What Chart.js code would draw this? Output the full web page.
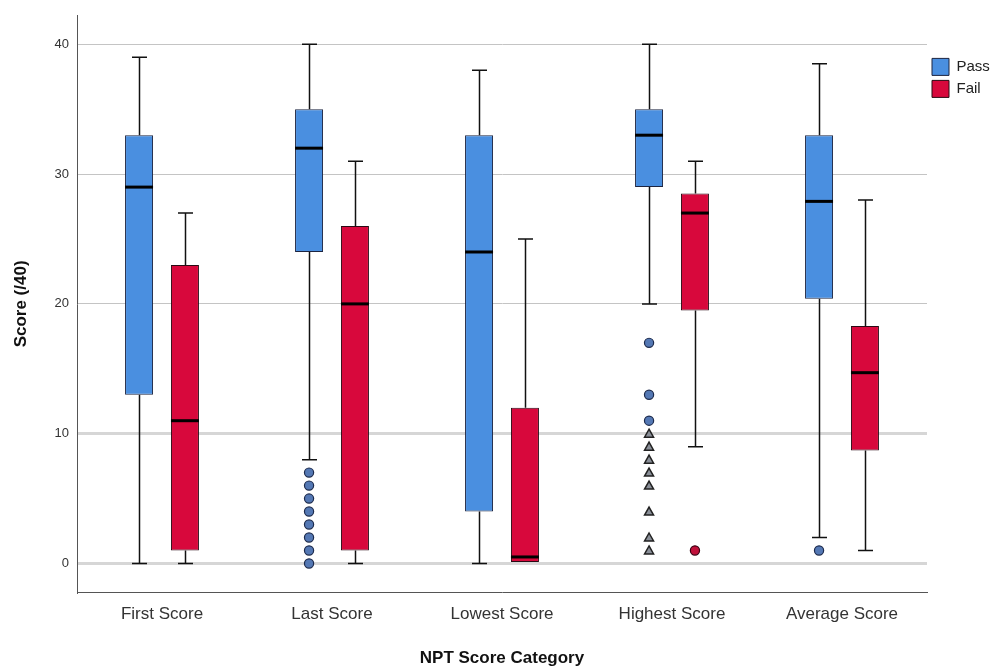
<!DOCTYPE html>
<html>
<head>
<meta charset="utf-8">
<script src="https://cdn.jsdelivr.net/npm/chart.js@4.4.0/dist/chart.umd.min.js"></script>
<style>
  html, body { margin: 0; padding: 0; background: #fff; }
  #wrap { width: 993px; height: 666px; position: relative; }
</style>
</head>
<body>
<div id="wrap"><canvas id="chart"></canvas></div>
<script>
// categories and box stats
const categories = ["First Score", "Last Score", "Lowest Score", "Highest Score", "Average Score"];

const passMin    = [0, 8, 0, 20, 2];
const passQ1     = [13, 24, 4, 29, 20.4];
const passMedian = [29, 32, 24, 33, 27.9];
const passQ3     = [33, 35, 33, 35, 33];
const passMax    = [39, 40, 38, 40, 38.5];

const failMin    = [0, 0, 0, 9, 1];
const failQ1     = [1, 1, 0, 19.5, 8.7];
const failMedian = [11, 20, 0.5, 27, 14.7];
const failQ3     = [23, 26, 12, 28.5, 18.3];
const failMax    = [27, 31, 25, 31, 28];

// outliers (circles) and extremes (triangles)
const passOutliers = [[], [0, 1, 2, 3, 4, 5, 6, 7], [], [17, 13, 11], [1]];
const passExtremes = [[], [], [], [10, 9, 8, 7, 6, 4, 2, 1], []];
const failOutliers = [[], [], [], [1], []];
const failExtremes = [[], [], [], [], []];

const yTicks = [0, 10, 20, 30, 40];

const PASS = "#4a8fe0";
const FAIL = "#d8083c";

const stats = [
  { min: passMin, med: passMedian, max: passMax, out: passOutliers, ext: passExtremes, dot: "#5478b4", dotLine: "#1d2b4d" },
  { min: failMin, med: failMedian, max: failMax, out: failOutliers, ext: failExtremes, dot: "#c0103a", dotLine: "#3a0012" }
];

const FONT = "'Liberation Sans', Arial, sans-serif";

// whiskers behind the boxes, medians + outliers on top
const boxExtras = {
  id: "boxExtras",
  beforeDatasetsDraw(chart) {
    const ctx = chart.ctx, y = chart.scales.y;
    ctx.save();
    ctx.strokeStyle = "#111";
    ctx.lineWidth = 1.5;
    stats.forEach((s, di) => {
      const meta = chart.getDatasetMeta(di);
      const q = chart.data.datasets[di].data;
      meta.data.forEach((el, i) => {
        const x = Math.round(el.x) + 0.5, cap = 7.5;
        const yMax = y.getPixelForValue(s.max[i]), yMin = y.getPixelForValue(s.min[i]);
        const yTop = y.getPixelForValue(q[i][1]), yBot = y.getPixelForValue(q[i][0]);
        ctx.beginPath();
        if (s.max[i] > q[i][1]) {
          ctx.moveTo(x, yTop); ctx.lineTo(x, yMax);
          ctx.moveTo(x - cap, yMax); ctx.lineTo(x + cap, yMax);
        }
        if (s.min[i] < q[i][0]) {
          ctx.moveTo(x, yBot); ctx.lineTo(x, yMin);
          ctx.moveTo(x - cap, yMin); ctx.lineTo(x + cap, yMin);
        }
        ctx.stroke();
      });
    });
    ctx.restore();
  },
  afterDatasetsDraw(chart) {
    const ctx = chart.ctx, y = chart.scales.y;
    ctx.save();
    stats.forEach((s, di) => {
      const meta = chart.getDatasetMeta(di);
      meta.data.forEach((el, i) => {
        const half = el.width / 2;
        const ym = y.getPixelForValue(s.med[i]);
        ctx.strokeStyle = "#000";
        ctx.lineWidth = 3;
        ctx.beginPath();
        ctx.moveTo(el.x - half, ym); ctx.lineTo(el.x + half, ym);
        ctx.stroke();

        ctx.lineWidth = 1.2;
        s.out[i].forEach(v => {
          const py = y.getPixelForValue(v);
          ctx.fillStyle = s.dot; ctx.strokeStyle = s.dotLine;
          ctx.beginPath(); ctx.arc(el.x, py, 4.6, 0, Math.PI * 2);
          ctx.fill(); ctx.stroke();
        });
        s.ext[i].forEach(v => {
          const py = y.getPixelForValue(v);
          ctx.fillStyle = "#8a8f98"; ctx.strokeStyle = "#222";
          ctx.lineWidth = 1.5;
          ctx.beginPath();
          ctx.moveTo(el.x, py - 4.5); ctx.lineTo(el.x + 4.5, py + 3.5); ctx.lineTo(el.x - 4.5, py + 3.5);
          ctx.closePath(); ctx.fill(); ctx.stroke();
        });
      });
    });
    ctx.restore();
  }
};

new Chart(document.getElementById("chart"), {
  type: "bar",
  data: {
    labels: categories,
    datasets: [
      { label: "Pass", data: passQ1.map((v, i) => [v, passQ3[i]]), backgroundColor: PASS,
        borderColor: "#1c2440", borderWidth: 1, borderSkipped: false },
      { label: "Fail", data: failQ1.map((v, i) => [v, failQ3[i]]), backgroundColor: FAIL,
        borderColor: "#2a0a14", borderWidth: 1, borderSkipped: false }
    ]
  },
  options: {
    responsive: true,
    maintainAspectRatio: false,
    animation: false,
    datasets: { bar: { categoryPercentage: 0.54, barPercentage: 0.61 } },
    layout: { padding: { top: 14, left: 0, right: 0, bottom: 0 } },
    plugins: {
      tooltip: { enabled: false },
      legend: {
        position: "right",
        align: "start",
        maxWidth: 66,
        title: { display: true, text: " ", font: { size: 12 }, padding: { top: 25, bottom: 0 } },
        labels: {
          boxWidth: 17, boxHeight: 17, padding: 5, color: "#222",
          font: { family: FONT, size: 15 }
        }
      }
    },
    scales: {
      x: {
        grid: { display: false, drawTicks: false },
        border: { display: true, color: "#555", width: 1 },
        ticks: { color: "#333", padding: 12, font: { family: FONT, size: 17 } },
        title: { display: true, text: "NPT Score Category", color: "#111",
          font: { family: FONT, size: 17, weight: "bold" }, padding: { top: 0, bottom: -3 } },
        afterFit: s => { s.height = 74; }
      },
      y: {
        min: -2.2, max: 42.2,
        afterBuildTicks: axis => { axis.ticks = yTicks.map(v => ({ value: v })); },
        grid: {
          drawTicks: false,
          color: c => (c.tick && c.tick.value <= 10 ? "#d6d6d6" : "#c4c4c4"),
          lineWidth: c => (c.tick && c.tick.value <= 10 ? 3 : 1)
        },
        border: { display: true, color: "#555", width: 1 },
        ticks: { color: "#333", padding: 8, font: { family: FONT, size: 13 } },
        title: { display: true, text: "Score (/40)", color: "#111",
          font: { family: FONT, size: 17, weight: "bold" }, padding: { top: 11, bottom: 0 } },
        afterFit: s => { s.width = 77; }
      }
    }
  },
  plugins: [boxExtras]
});
</script>
</body>
</html>
